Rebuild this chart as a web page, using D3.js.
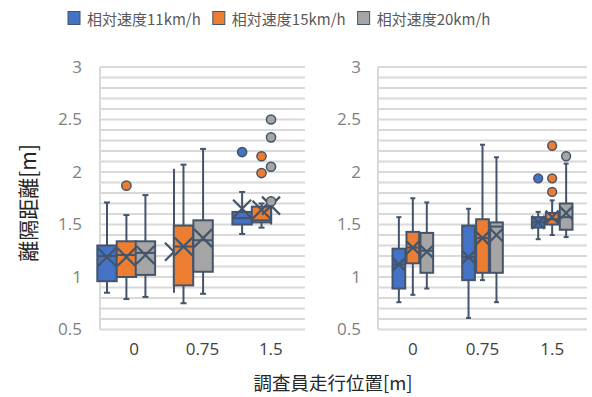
<!DOCTYPE html>
<html>
<head>
<meta charset="utf-8">
<script src="https://cdn.jsdelivr.net/npm/d3@7"></script>
<style>
  body { margin: 0; background: #fff; }
  svg { display: block; }
</style>
</head>
<body>
<svg width="592" height="397"></svg>
<script>
var width = 592;
var height = 397;

var categories = ["0", "0.75", "1.5"];
var seriesNames = ["相対速度11km/h", "相対速度15km/h", "相対速度20km/h"];
var yTicks = [0.5, 1, 1.5, 2, 2.5, 3];

// left chart  -  each array is [series][category]
var leftMin  = [[0.85, 0.85, 1.41], [0.79, 0.75, 1.47], [0.81, 0.84, 1.50]];
var leftQ1   = [[0.96, 1.00, 1.50], [1.00, 0.92, 1.52], [1.02, 1.05, 1.55]];
var leftMed  = [[1.20, 1.25, 1.56], [1.21, 1.29, 1.54], [1.23, 1.35, 1.60]];
var leftQ3   = [[1.30, 1.50, 1.62], [1.34, 1.49, 1.67], [1.34, 1.54, 1.65]];
var leftMax  = [[1.71, 2.03, 1.81], [1.59, 2.07, 1.70], [1.78, 2.22, 1.70]];
var leftMean = [[1.19, 1.24, 1.65], [1.19, 1.29, 1.64], [1.21, 1.37, 1.68]];
var leftOut  = [[[], [], [2.19]], [[1.87], [], [2.15, 1.99]], [[], [], [2.50, 2.33, 2.05, 1.72]]];

// right chart
var rightMin  = [[0.76, 0.61, 1.36], [0.83, 0.97, 1.40], [0.89, 0.76, 1.38]];
var rightQ1   = [[0.89, 0.97, 1.47], [1.13, 1.04, 1.50], [1.04, 1.04, 1.45]];
var rightMed  = [[1.12, 1.19, 1.52], [1.28, 1.37, 1.55], [1.25, 1.48, 1.57]];
var rightQ3   = [[1.27, 1.49, 1.57], [1.43, 1.55, 1.61], [1.42, 1.52, 1.70]];
var rightMax  = [[1.57, 1.65, 1.62], [1.75, 2.26, 1.73], [1.71, 2.14, 2.08]];
var rightMean = [[1.12, 1.19, 1.52], [1.28, 1.37, 1.57], [1.24, 1.40, 1.61]];
var rightOut  = [[[], [], [1.94]], [[], [], [2.25, 1.94, 1.81]], [[], [], [2.15]]];

var colors = ["#4472C4", "#ED7D31", "#A5A5A5"];
var outline = "#44546A";
var gridColor = "#D9D9D9";

var svg = d3.select("svg");

var y = d3.scaleLinear()
    .domain([0.5, 3])
    .range([329.5, 67]);

// box placement of the source chart (offset from category centre, in box widths)
var leftOffset = [[-1.40, -1.47, -1.48], [-0.40, -0.98, -0.48], [0.58, 0.03, 0.01]];
var leftSpan   = [[1, 0, 1], [1, 1, 1], [1, 1, 0]];
var rightOffset = [[-1.1, -1.1, -1.1], [0, 0, 0], [1.1, 1.1, 1.1]];
var rightSpan   = [[1, 1, 1], [1, 1, 1], [1, 1, 1]];

function drawPanel(x0, x1, cfg) {
    var g = svg.append("g");

    var x = d3.scaleBand()
        .domain(categories)
        .range([x0, x1])
        .padding(0);

    // gridlines every 0.1
    g.selectAll(".grid")
        .data(d3.range(5, 31).map(function(i){ return i / 10; }))
        .enter()
        .append("line")
        .attr("class", "grid")
        .attr("x1", x0).attr("x2", x1)
        .attr("y1", function(d){ return y(d); })
        .attr("y2", function(d){ return y(d); })
        .style("stroke", gridColor)
        .style("stroke-width", 2);

    g.append("line")
        .attr("x1", x0).attr("x2", x0)
        .attr("y1", y(3)).attr("y2", y(0.5))
        .style("stroke", gridColor)
        .style("stroke-width", 2);

    // y tick labels
    var axisY = d3.axisLeft(y).tickValues(yTicks).tickSize(0).tickPadding(cfg.yPad)
        .tickFormat(d3.format("~g"));
    var ay = g.append("g")
        .attr("transform", "translate(" + x0 + ",0)")
        .call(axisY);
    ay.select(".domain").remove();
    ay.selectAll("text")
        .style("font-family", "'Open Sans', sans-serif")
        .style("font-size", "17px")
        .style("fill", "#7F7F7F");

    // x tick labels
    var axisX = d3.axisBottom(x).tickSize(0).tickPadding(13);
    var ax = g.append("g")
        .attr("transform", "translate(0," + y(0.5) + ")")
        .call(axisX);
    ax.select(".domain").remove();
    ax.selectAll("text")
        .style("font-family", "'Open Sans', sans-serif")
        .style("font-size", "17px")
        .style("fill", "#404040");

    var bw = cfg.boxW;
    var hx = cfg.xSize / 2;

    for (var s = 0; s < seriesNames.length; s++) {
        var sg = g.append("g").attr("class", "series-" + s);
        categories.forEach(function(cat, c) {
            var cx = x(cat) + x.bandwidth() / 2 + cfg.offset[s][c] * bw;
            var w = bw * cfg.span[s][c];
            var cap = w > 0 ? cfg.capW / 2 : 0;

            // whisker
            sg.append("line")
                .attr("x1", cx).attr("x2", cx)
                .attr("y1", y(cfg.max[s][c])).attr("y2", y(cfg.min[s][c]))
                .style("stroke", outline).style("stroke-width", 2);
            [cfg.max[s][c], cfg.min[s][c]].forEach(function(v){
                sg.append("line")
                    .attr("x1", cx - cap).attr("x2", cx + cap)
                    .attr("y1", y(v)).attr("y2", y(v))
                    .style("stroke", outline).style("stroke-width", 2);
            });

            if (w > 0) {
                sg.append("rect")
                    .attr("x", cx - w / 2)
                    .attr("y", y(cfg.q3[s][c]))
                    .attr("width", w)
                    .attr("height", y(cfg.q1[s][c]) - y(cfg.q3[s][c]))
                    .style("fill", colors[s])
                    .style("stroke", outline)
                    .style("stroke-width", 2);
                sg.append("line")
                    .attr("x1", cx - w / 2).attr("x2", cx + w / 2)
                    .attr("y1", y(cfg.med[s][c])).attr("y2", y(cfg.med[s][c]))
                    .style("stroke", outline).style("stroke-width", 2);
            }

            // mean marker
            var my = y(cfg.mean[s][c]);
            sg.append("path")
                .attr("d", "M" + (cx - hx) + "," + (my - hx) + "L" + (cx + hx) + "," + (my + hx) +
                           "M" + (cx - hx) + "," + (my + hx) + "L" + (cx + hx) + "," + (my - hx))
                .style("stroke", outline).style("stroke-width", 2.2).style("fill", "none");

            // outliers
            sg.selectAll(".out-" + c)
                .data(cfg.out[s][c])
                .enter()
                .append("circle")
                .attr("class", "out-" + c)
                .attr("cx", cx)
                .attr("cy", function(d){ return y(d); })
                .attr("r", cfg.r)
                .style("fill", colors[s])
                .style("stroke", outline)
                .style("stroke-width", 1.5);
        });
    }
}

drawPanel(100, 305, {
    boxW: 19.4, capW: 6, xSize: 18, r: 4.6, yPad: 18,
    offset: leftOffset, span: leftSpan,
    min: leftMin, q1: leftQ1, med: leftMed, q3: leftQ3, max: leftMax, mean: leftMean, out: leftOut
});

drawPanel(378, 587, {
    boxW: 12.7, capW: 5, xSize: 13, r: 4.4, yPad: 17,
    offset: rightOffset, span: rightSpan,
    min: rightMin, q1: rightQ1, med: rightMed, q3: rightQ3, max: rightMax, mean: rightMean, out: rightOut
});

// axis titles
svg.append("text")
    .attr("x", 333)
    .attr("y", 382)
    .attr("text-anchor", "middle")
    .attr("dominant-baseline", "central")
    .style("font-family", "'Noto Sans CJK JP', sans-serif")
    .style("font-size", "18.5px")
    .style("fill", "#262626")
    .text("調査員走行位置[m]");

svg.append("text")
    .attr("transform", "translate(27,203) rotate(-90)")
    .attr("text-anchor", "middle")
    .attr("dominant-baseline", "central")
    .style("font-family", "'Noto Sans CJK JP', sans-serif")
    .style("font-size", "21px")
    .style("fill", "#262626")
    .text("離隔距離[m]");

// legend
var legend = svg.append("g").attr("class", "legend");
var lx = 68;
seriesNames.forEach(function(name, i){
    legend.append("rect")
        .attr("x", lx).attr("y", 11.5)
        .attr("width", 12).attr("height", 13)
        .style("fill", colors[i])
        .style("stroke", outline)
        .style("stroke-width", 1);
    var t = legend.append("text")
        .attr("x", lx + 19)
        .attr("y", 18)
        .attr("dominant-baseline", "central")
        .style("font-family", "'Noto Sans CJK JP', sans-serif")
        .style("font-size", "15px")
        .style("fill", "#595959")
        .text(name);
    lx += 19 + t.node().getComputedTextLength() + 12;
});
</script>
</body>
</html>
